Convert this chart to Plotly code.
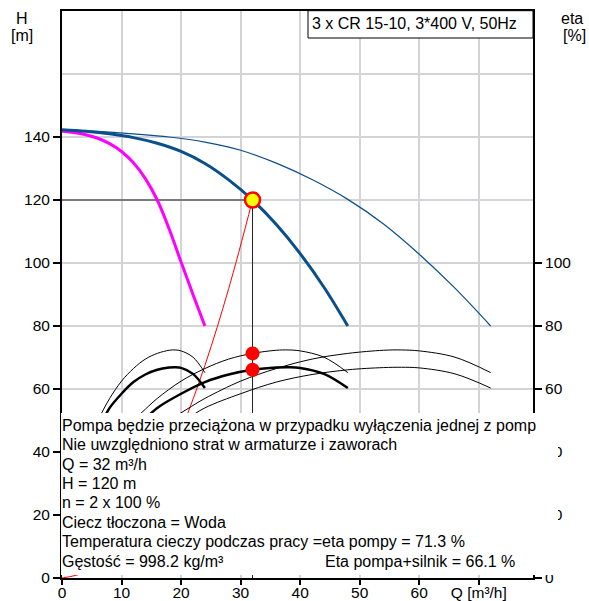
import plotly.graph_objects as go

# ---------------- data ----------------
# QH curves (Q in m3/h, H in m)
q_1pump = [0, 2, 4, 6, 8, 10, 12, 14, 16, 18, 20, 22, 24]
h_1pump = [141.8, 141.4, 140.7, 139.6, 137.9, 135.4, 131.8, 126.8, 120.0, 110.8, 100.3, 90.0, 80.0]

q_2pump = [0, 4, 8, 12, 16, 20, 24, 28, 32, 36, 40, 44, 48]
h_2pump = [142.3, 141.8, 141.0, 139.8, 138.0, 135.4, 131.6, 126.4, 120.0, 112.2, 103.0, 92.3, 80.0]

q_3pump = [0, 6, 12, 18, 24, 30, 36, 42, 48, 54, 60, 66, 72]
h_3pump = [142.3, 141.8, 141.0, 140.0, 138.4, 135.8, 131.7, 126.5, 120.2, 112.4, 102.8, 92.0, 80.0]

# efficiency curves (eta in %)
q_eta_1 = [5, 6, 7, 8, 10, 12, 14, 16, 18, 19, 20, 22, 24]
q_eta_2 = [10, 12, 14, 16, 20, 24, 28, 32, 36, 38, 40, 44, 48]
q_eta_3 = [15, 18, 21, 24, 30, 36, 42, 48, 54, 57, 60, 66, 72]
eta_pump = [46.0, 50.0, 53.6, 57.0, 62.5, 66.5, 69.5, 71.3, 72.3, 72.4, 72.1, 70.1, 65.2]
eta_total = [42.5, 46.5, 50.5, 54.0, 58.5, 62.2, 64.6, 66.1, 66.8, 66.9, 66.7, 64.8, 60.3]

# system curve
q_sys = [0, 4, 8, 12, 16, 20, 24, 28, 32]
h_sys = [0, 1.9, 7.5, 16.9, 30.0, 46.9, 67.5, 91.9, 120.0]

# duty point
q_duty = 32
h_duty = 120
eta_duty_pump = 71.3
eta_duty_total = 66.1

x_tickvals = [0, 10, 20, 30, 40, 50, 60, 70]
x_ticktext = ["0", "10", "20", "30", "40", "50", "60", "Q [m³/h]"]
h_tickvals = [0, 20, 40, 60, 80, 100, 120, 140]
eta_tickvals = [0, 20, 40, 60, 80, 100]

title_text = "3 x CR 15-10, 3*400 V, 50Hz"
info_lines = [
    "Pompa będzie przeciążona w przypadku wyłączenia jednej z pomp",
    "Nie uwzględniono strat w armaturze i zaworach",
    "Q = 32 m³/h",
    "H = 120 m",
    "n = 2 x 100 %",
    "Ciecz tłoczona = Woda",
    "Temperatura cieczy podczas pracy =eta pompy = 71.3 %",
    "Gęstość = 998.2 kg/m³",
]
info_right = "Eta pompa+silnik = 66.1 %"

# ---------------- layout geometry ----------------
FW, FH = 589, 601
L, R, T, B = 62, 56, 11, 23
PW, PH = FW - L - R, FH - T - B
XMAX = PW / 5.954
YMAX = 180


def px(x):
    return (x - L) / PW


def py(y):
    return (T + PH - y) / PH


BLUE = "#0b4f8a"
FONT = "Liberation Sans, Arial, sans-serif"
TXT = 16
TICK = 15.5

fig = go.Figure()

# system curve
fig.add_trace(go.Scatter(x=q_sys, y=h_sys, mode="lines", line=dict(color="red", width=1, shape="spline")))
# reference lines to duty point
fig.add_trace(go.Scatter(x=[0, q_duty, q_duty], y=[h_duty, h_duty, 0], mode="lines",
                         line=dict(color="#222222", width=1)))

# eta curves
fig.add_trace(go.Scatter(x=q_eta_1, y=eta_pump, mode="lines", line=dict(color="black", width=1, shape="spline")))
fig.add_trace(go.Scatter(x=q_eta_1, y=eta_total, mode="lines", line=dict(color="black", width=2.5, shape="spline")))
fig.add_trace(go.Scatter(x=q_eta_2, y=eta_pump, mode="lines", line=dict(color="black", width=1, shape="spline")))
fig.add_trace(go.Scatter(x=q_eta_2, y=eta_total, mode="lines", line=dict(color="black", width=2.5, shape="spline")))
fig.add_trace(go.Scatter(x=q_eta_3, y=eta_pump, mode="lines", line=dict(color="black", width=1, shape="spline")))
fig.add_trace(go.Scatter(x=q_eta_3, y=eta_total, mode="lines", line=dict(color="black", width=1, shape="spline")))

# QH curves
fig.add_trace(go.Scatter(x=q_3pump, y=h_3pump, mode="lines", line=dict(color=BLUE, width=1.2, shape="spline")))
fig.add_trace(go.Scatter(x=q_1pump, y=h_1pump, mode="lines", line=dict(color="#ff00ff", width=3, shape="spline")))
fig.add_trace(go.Scatter(x=q_2pump, y=h_2pump, mode="lines", line=dict(color=BLUE, width=3, shape="spline")))

# efficiency dots & duty point
fig.add_trace(go.Scatter(x=[q_duty, q_duty], y=[eta_duty_pump, eta_duty_total], mode="markers",
                         marker=dict(color="red", size=14, line=dict(width=0))))
fig.add_trace(go.Scatter(x=[q_duty], y=[h_duty], mode="markers",
                         marker=dict(color="#ffff00", size=15, line=dict(color="red", width=2.5))))

axis_font = dict(family=FONT, size=TICK, color="black")

fig.update_layout(
    width=FW, height=FH, autosize=False,
    margin=dict(l=L, r=R, t=T, b=B, pad=0, autoexpand=False),
    paper_bgcolor="white", plot_bgcolor="white",
    showlegend=False,
    font=dict(family=FONT, size=TXT, color="black"),
    xaxis=dict(range=[0, XMAX], tickmode="array", tickvals=x_tickvals, ticktext=x_ticktext,
               showgrid=True, gridcolor="#d2d4d8", gridwidth=1.5, zeroline=False,
               showline=True, linecolor="black", linewidth=2, mirror=True,
               ticks="outside", ticklen=5, tickwidth=2, tickcolor="black",
               ticklabelstandoff=-6,
               tickfont=axis_font, fixedrange=True, automargin=False),
    yaxis=dict(range=[0, YMAX], tickmode="array", tickvals=h_tickvals,
               showgrid=True, gridcolor="#d2d4d8", gridwidth=1.5, zeroline=False,
               showline=True, linecolor="black", linewidth=2,
               ticks="outside", ticklen=7, tickwidth=2, tickcolor="black",
               tickfont=axis_font, fixedrange=True, automargin=False,
               minor=dict(tickmode="array", tickvals=[160], showgrid=True,
                          gridcolor="#d2d4d8", gridwidth=1.5, ticks="")),
    yaxis2=dict(range=[0, YMAX], overlaying="y", side="right", anchor="x",
                tickmode="array", tickvals=eta_tickvals, showgrid=False, zeroline=False,
                showline=True, linecolor="black", linewidth=2,
                ticks="outside", ticklen=7, tickwidth=2, tickcolor="black",
                tickfont=axis_font, fixedrange=True, automargin=False),
)

# dummy trace to activate yaxis2
fig.add_trace(go.Scatter(x=[0], y=[0], yaxis="y2", mode="markers", marker=dict(opacity=0), hoverinfo="skip"))

shapes = [
    # white info box
    dict(type="rect", xref="paper", yref="paper", x0=px(61), x1=px(558), y0=py(413), y1=py(575),
         fillcolor="white", line=dict(width=0), layer="above"),
    # title box
    dict(type="rect", xref="paper", yref="paper", x0=px(308), x1=px(533), y0=py(38), y1=py(10.7),
         fillcolor="white", line=dict(color="black", width=1), layer="above"),
]
fig.update_layout(shapes=shapes)


def add_text(txt, x, y, xanchor="left"):
    return dict(text=txt, x=px(x), y=py(y), xref="paper", yref="paper",
                xanchor=xanchor, yanchor="middle", showarrow=False, align="left",
                font=dict(family=FONT, size=TXT, color="black"))


ann = [add_text(title_text, 310, 23)]
ann.append(add_text("H", 22, 18, "center"))
ann.append(add_text("[m]", 22, 35, "center"))
ann.append(add_text("eta", 559, 18))
ann.append(add_text("[%]", 561, 35))
line_y = [425.2, 444.6, 464.0, 483.4, 502.8, 522.2, 541.6, 561.0]
for txt, yy in zip(info_lines, line_y):
    ann.append(add_text(txt, 60, yy))
ann.append(add_text(info_right, 323, line_y[-1]))
fig.update_layout(annotations=ann)

fig.write_html("out.html", config={"displayModeBar": False})
